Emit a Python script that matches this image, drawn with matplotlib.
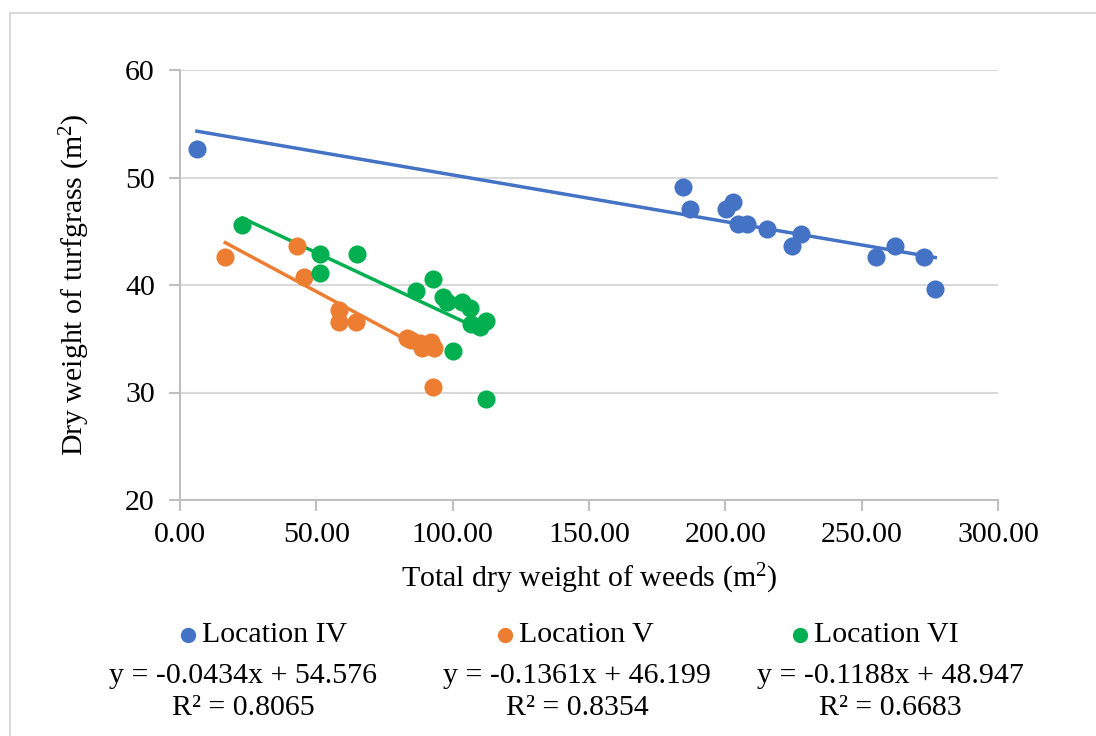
import numpy as np
import matplotlib.pyplot as plt
from matplotlib.lines import Line2D
from matplotlib.patches import Rectangle

plt.rcParams['font.family'] = ['Liberation Serif', 'DejaVu Serif']
plt.rcParams['mathtext.fontset'] = 'custom'
plt.rcParams['mathtext.rm'] = 'Liberation Serif'
plt.rcParams['mathtext.it'] = 'Liberation Serif:italic'

# Location IV
x_iv = [6.2, 184.6, 187.2, 200.2, 202.9, 204.7, 207.8, 215.4, 224.3, 227.6, 255.2, 262.3, 272.8, 277.0]
y_iv = [52.65, 49.15, 47.1, 47.1, 47.7, 45.65, 45.65, 45.2, 43.6, 44.7, 42.6, 43.6, 42.6, 39.6]
# Location V
x_v = [16.6, 42.8, 45.5, 58.4, 58.4, 64.4, 83.1, 84.9, 88.0, 88.6, 92.2, 93.1, 92.7]
y_v = [42.63, 43.63, 40.7, 37.67, 36.6, 36.6, 35.1, 34.9, 34.6, 34.1, 34.7, 34.1, 30.5]
# Location VI
x_vi = [22.9, 51.3, 51.3, 65.0, 86.7, 92.7, 96.3, 97.8, 103.3, 106.5, 106.9, 110.2, 112.2, 100.0, 112.2]
y_vi = [45.58, 42.9, 41.1, 42.9, 39.4, 40.6, 38.85, 38.4, 38.45, 37.9, 36.4, 36.1, 36.65, 33.9, 29.4]

labels = ['Location IV', 'Location V', 'Location VI']
slopes = [-0.0434, -0.1361, -0.1188]
intercepts = [54.576, 46.199, 48.947]
r2 = ['0.8065', '0.8354', '0.6683']
colors = ['#4472C4', '#ED7D31', '#00B050']

fs = 21.5
fig = plt.figure(figsize=(10.96, 7.36), dpi=100)
ax = fig.add_axes([180/1096, 1-500/736, 818/1096, 430/736])

# outer chart frame
fig.patches.append(Rectangle((10/1096, -0.1), 1.2, 1.1 - 13/736, transform=fig.transFigure,
                             fill=False, edgecolor='#d9d9d9', linewidth=1.5))

series = [(x_iv, y_iv), (x_v, y_v), (x_vi, y_vi)]
for (xs, ys), c, m, b in zip(series, colors, slopes, intercepts):
    xs = np.array(xs)
    ax.scatter(xs, ys, s=170, color=c, zorder=3, linewidths=0)
    xl = np.array([xs.min(), xs.max()])
    ax.plot(xl, m * xl + b, color=c, lw=2.5, zorder=2)

ax.set_xlim(0, 300)
ax.set_ylim(20, 60)
ax.set_xticks(np.arange(0, 301, 50))
ax.set_xticklabels([f'{v:.2f}' for v in np.arange(0, 301, 50)])
ax.set_yticks(np.arange(20, 61, 10))
ax.grid(axis='y', color='#d9d9d9', lw=1.5)
ax.set_axisbelow(True)
for s in ['top', 'right']:
    ax.spines[s].set_visible(False)
for s in ['left', 'bottom']:
    ax.spines[s].set_color('#bfbfbf')
    ax.spines[s].set_linewidth(1.5)
ax.tick_params(axis='both', colors='#bfbfbf', width=1.5, length=8, labelsize=fs, labelcolor='black')
ax.tick_params(axis='x', pad=8)
ax.tick_params(axis='y', pad=10)
ax.set_xlabel('Total dry weight of weeds (m$^2$)', fontsize=fs, labelpad=10)
ax.set_ylabel('Dry weight of turfgrass (m$^2$)', fontsize=fs, labelpad=24)

# legend + trendline labels
leg_x = [188, 505, 800]
eq_x = [243, 577, 890]
for i in range(3):
    fig.add_artist(Line2D([leg_x[i] / 1096], [1 - 635/736], marker='o', markersize=10,
                          color=colors[i], linestyle='none', transform=fig.transFigure))
    fig.text((leg_x[i] + 14) / 1096, 1 - 635/736, labels[i], fontsize=fs, va='center', ha='left')
    eq = f'y = {slopes[i]}x + {intercepts[i]}'
    fig.text(eq_x[i] / 1096, 1 - 676/736, eq, fontsize=fs, va='center', ha='center')
    fig.text(eq_x[i] / 1096, 1 - 708/736, f'R² = {r2[i]}', fontsize=fs, va='center', ha='center')

fig.savefig('out.png', dpi=100)
